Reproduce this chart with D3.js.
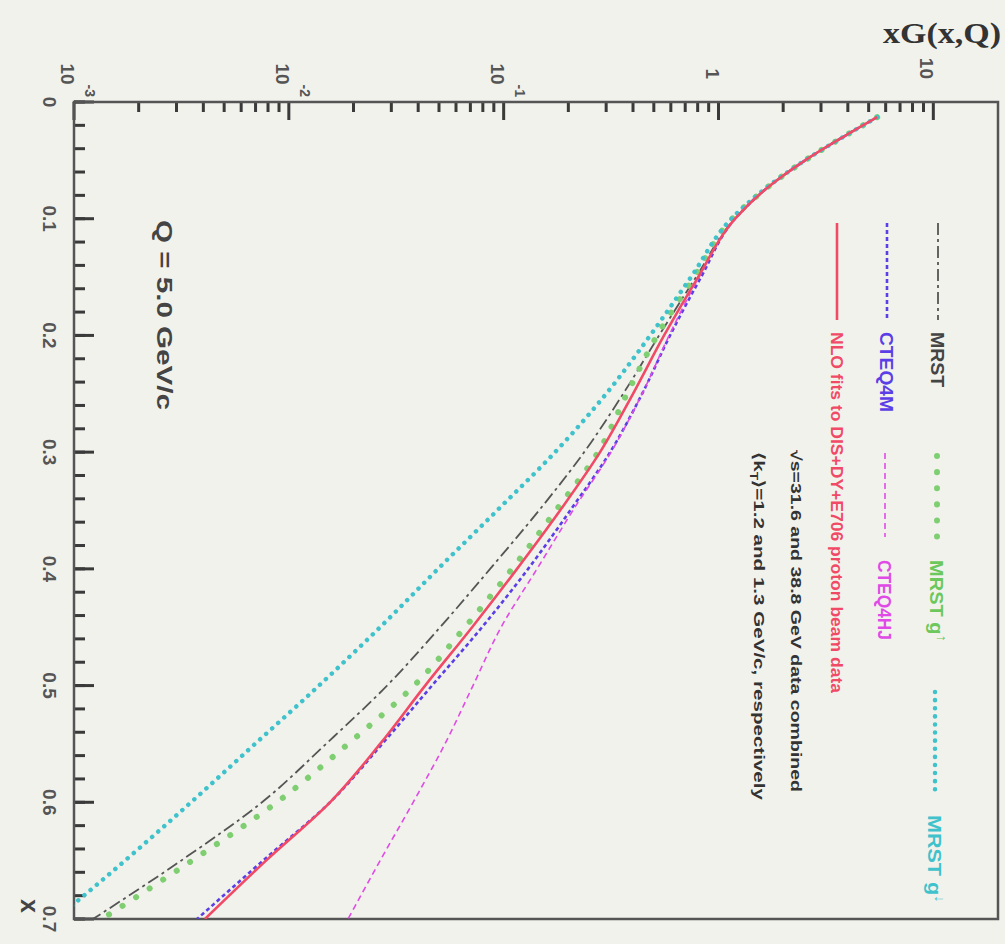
<!DOCTYPE html>
<html>
<head>
<meta charset="utf-8">
<script src="https://cdn.jsdelivr.net/npm/d3@7"></script>
<style>
  html, body { margin: 0; padding: 0; background: #f2f2ec; }
  svg { display: block; }
</style>
</head>
<body>
<div id="chart"></div>
<script>
const xPoints = [0.013, 0.03, 0.05, 0.075, 0.1, 0.15, 0.2, 0.25, 0.3, 0.35, 0.4, 0.45, 0.5, 0.55, 0.6, 0.65, 0.7];

// xG(x,Q) at Q = 5 GeV/c
const mrst    = [5.48, 3.80, 2.53, 1.65, 1.19, 0.786, 0.529, 0.360, 0.237, 0.146, 0.0865, 0.0506, 0.02866, 0.0149, 0.0075, 0.00315, 0.001226];
const cteq4m  = [5.48, 3.80, 2.53, 1.65, 1.195, 0.830, 0.595, 0.441, 0.313, 0.204, 0.130, 0.0793, 0.0464, 0.0272, 0.01555, 0.00758, 0.00374];
const nloFit  = [5.48, 3.80, 2.53, 1.65, 1.195, 0.804, 0.558, 0.400, 0.281, 0.183, 0.1154, 0.0713, 0.0431, 0.0266, 0.01555, 0.00783, 0.00407];
const mrstUp  = [5.48, 3.80, 2.53, 1.64, 1.16, 0.770, 0.518, 0.375, 0.275, 0.175, 0.1094, 0.0661, 0.0383, 0.01886, 0.0088, 0.00354, 0.00135];
const cteq4hj = [5.48, 3.80, 2.53, 1.65, 1.195, 0.812, 0.589, 0.441, 0.316, 0.210, 0.143, 0.0973, 0.0720, 0.0533, 0.0379, 0.0266, 0.01886];
const mrstDn  = [5.48, 3.80, 2.53, 1.63, 1.15, 0.745, 0.481, 0.300, 0.1735, 0.0932, 0.0495, 0.0266, 0.01382, 0.00696, 0.003505, 0.001727, 0.000824];

// axis ticks
const xMajorTicks = [0, 0.1, 0.2, 0.3, 0.4, 0.5, 0.6, 0.7];
const xTickLabels = ["0", "0.1", "0.2", "0.3", "0.4", "0.5", "0.6", "0.7"];
const yMajorTicks = [0.001, 0.01, 0.1, 1, 10];
const yTickBase   = ["10", "10", "10", "1", "10"];
const yTickExp    = ["-3", "-2", "-1", "", ""];

const width = 1005, height = 944;
const font = "'Liberation Sans', Arial, sans-serif";

const svg = d3.select("#chart").append("svg")
    .attr("width", width)
    .attr("height", height)
    .style("font-family", font)
    .style("font-weight", "bold");

svg.append("rect").attr("width", width).attr("height", height).attr("fill", "#f2f2ec");

const x = d3.scaleLinear().domain([0, 0.7]).range([102, 919]);
const y = d3.scaleLog().domain([0.001, 20]).range([931, 7]);

// ticks inside the frame, in page coordinates
// (x value runs down the page, xG runs left to right)
const pageX = v => width - y(v);
const leftX = pageX(0.001), topY = x(0);

const xMinor = d3.range(0, 0.7001, 0.02);
const yMinor = [];
[0.001, 0.01, 0.1, 1, 10].forEach(dec => {
    for (let k = 2; k <= 9; k++) if (dec * k < 20) yMinor.push(dec * k);
});

const tickColor = "#3a3a3a";
svg.selectAll("rect.xtick")
    .data(xMinor.map(d => [d, 11]).concat(xMajorTicks.map(d => [d, 20])))
    .enter().append("rect")
    .attr("class", "xtick")
    .attr("x", leftX)
    .attr("y", d => x(d[0]) - 1.5)
    .attr("width", d => d[1])
    .attr("height", 3)
    .attr("fill", tickColor);

svg.selectAll("rect.ytick")
    .data(yMinor.map(d => [d, 10]).concat(yMajorTicks.map(d => [d, 18])))
    .enter().append("rect")
    .attr("class", "ytick")
    .attr("x", d => pageX(d[0]) - 1.5)
    .attr("y", topY)
    .attr("width", 3)
    .attr("height", d => d[1])
    .attr("fill", tickColor);

// the rest of the plot is turned 90 degrees clockwise
const g = svg.append("g").attr("transform", `translate(${width},0) rotate(90)`);

g.append("defs").append("clipPath").attr("id", "frame")
  .append("rect")
    .attr("x", x(0)).attr("y", y(20))
    .attr("width", x(0.7) - x(0)).attr("height", y(0.001) - y(20));

const axisColor = "#555";

// frame
g.append("rect")
    .attr("x", x(0)).attr("y", y(20))
    .attr("width", x(0.7) - x(0)).attr("height", y(0.001) - y(20))
    .attr("fill", "none")
    .attr("stroke", axisColor)
    .attr("stroke-width", 2.5);

const y0 = y(0.001), x0 = x(0);

// x tick labels
g.append("g").selectAll("text")
    .data(xMajorTicks)
    .enter().append("text")
    .attr("x", d => x(d))
    .attr("y", y0 + 31)
    .attr("text-anchor", "middle")
    .attr("font-size", 19)
    .attr("fill", "#555")
    .text((d, i) => xTickLabels[i]);

// y tick labels
yMajorTicks.forEach((t, i) => {
    const hasExp = yTickExp[i] !== "";
    const txt = g.append("text")
        .attr("x", hasExp ? x0 - 5 : x0 - 23)
        .attr("y", y(t) + 13)
        .attr("text-anchor", "end")
        .attr("font-size", 19)
        .attr("fill", "#555");
    txt.append("tspan").text(yTickBase[i]);
    if (hasExp) {
        txt.append("tspan").attr("dy", -24).attr("font-size", 14).text(yTickExp[i]);
    }
});

// axis titles
g.append("text")
    .attr("x", 906)
    .attr("y", 984)
    .attr("text-anchor", "middle")
    .attr("font-size", 25)
    .attr("fill", "#444")
    .text("x");

svg.append("text")
    .attr("x", 1001)
    .attr("y", 43)
    .attr("text-anchor", "end")
    .style("font-family", "'Liberation Serif', serif")
    .attr("font-size", 29)
    .attr("fill", "#333")
    .attr("textLength", 118)
    .attr("lengthAdjust", "spacingAndGlyphs")
    .text("xG(x,Q)");

// curves
const series = [
    { name: "MRST",    values: mrst,    color: "#555",    width: 1.8, dash: "12,4,3,4", cap: "butt" },
    { name: "CTEQ4M",  values: cteq4m,  color: "#5b3fe6", width: 2.6, dash: "4,3",      cap: "butt" },
    { name: "CTEQ4HJ", values: cteq4hj, color: "#e04ae6", width: 1.6, dash: "6,4",      cap: "butt" },
    { name: "MRSTg+",  values: mrstUp,  color: "#7fcf72", width: 6,   dash: "0.1,16",   cap: "round" },
    { name: "MRSTg-",  values: mrstDn,  color: "#3fc2cb", width: 4.5, dash: "0.1,8",    cap: "round" },
    { name: "NLO",     values: nloFit,  color: "#f04a66", width: 2.6, dash: null,       cap: "butt" }
];

const line = d3.line()
    .x(d => x(d[0]))
    .y(d => y(d[1]))
    .curve(d3.curveMonotoneX);

const plot = g.append("g").attr("clip-path", "url(#frame)");
series.forEach(s => {
    plot.append("path")
        .datum(xPoints.map((xv, i) => [xv, s.values[i]]))
        .attr("d", line)
        .attr("fill", "none")
        .attr("stroke", s.color)
        .attr("stroke-width", s.width)
        .attr("stroke-dasharray", s.dash)
        .attr("stroke-linecap", s.cap);
});

// legend (local coords of rotated group)
function legLine(s, u0, u1, v) {
    g.append("line")
        .attr("x1", u0).attr("x2", u1).attr("y1", v).attr("y2", v)
        .attr("stroke", s.color)
        .attr("stroke-width", s.width)
        .attr("stroke-dasharray", s.dash)
        .attr("stroke-linecap", s.cap);
}
function legText(str, u, v, size, len, color) {
    return g.append("text")
        .attr("x", u).attr("y", v)
        .attr("font-size", size)
        .attr("fill", color)
        .attr("textLength", len)
        .attr("lengthAdjust", "spacingAndGlyphs")
        .text(str);
}

legLine(series[0], 223, 320, 67);
legText("MRST", 332, 74, 19, 55, "#444");
legLine(series[1], 223, 320, 118);
legText("CTEQ4M", 332, 125, 19, 80, "#5b3fe6");
legLine(series[5], 223, 320, 168);
legText("NLO fits to DIS+DY+E706 proton beam data", 332, 174, 17, 361, "#f04a66");

legLine(series[3], 456, 537, 68);
const up = legText("MRST g", 560, 75, 19, 82, "#6cc85c");
up.append("tspan").attr("dy", -7).attr("font-size", 14).text("↑");
legLine(series[2], 453, 537, 120);
legText("CTEQ4HJ", 560, 127, 19, 80, "#e04ae6");

legText("√s=31.6 and 38.8 GeV data combined", 450, 214, 15, 342, "#333");
const kt = legText("⟨k", 452, 251, 15, 348, "#333");
kt.append("tspan").attr("dy", 4).attr("font-size", 10).text("T");
kt.append("tspan").attr("dy", -4).text("⟩=1.2 and 1.3 GeV/c, respectively");

legLine(series[4], 692, 792, 70);
const dn = legText("MRST g", 815, 77, 19, 88, "#3fc2cb");
dn.append("tspan").attr("dy", -7).attr("font-size", 14).text("↓");

// label of the scale
g.append("text")
    .attr("x", 220)
    .attr("y", 848)
    .attr("font-size", 22)
    .attr("fill", "#444")
    .attr("textLength", 190)
    .attr("lengthAdjust", "spacingAndGlyphs")
    .text("Q = 5.0 GeV/c");
</script>
</body>
</html>
